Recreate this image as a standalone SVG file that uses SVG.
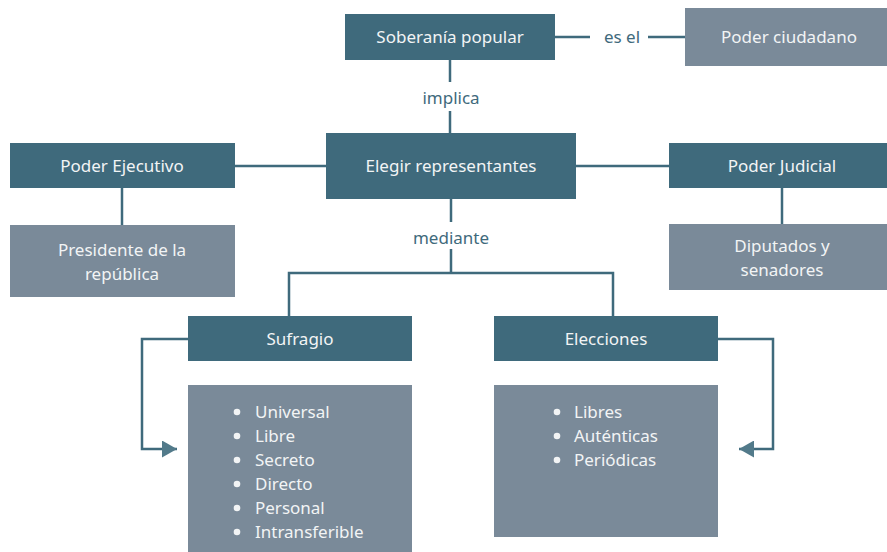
<svg xmlns="http://www.w3.org/2000/svg" width="887" height="552" viewBox="0 0 887 552">
<defs>
<style>
.dark{fill:#3f6a7c}
.gray{fill:#7a8a99}
.t{font-family:"Noto Sans","Open Sans",sans-serif;font-size:17px;fill:#f2f4f5;text-anchor:middle}
.lbl{font-family:"Noto Sans","Open Sans",sans-serif;font-size:17px;fill:#3f6a7c;text-anchor:middle}
.li{font-family:"Noto Sans","Open Sans",sans-serif;font-size:17px;fill:#f2f4f5}
.b{fill:#f2f4f5}
.c{fill:none;stroke:#3f6a7c;stroke-width:2.5}
</style>
<marker id="arr" viewBox="0 0 15 17" refX="15" refY="8.5" markerWidth="15" markerHeight="17" markerUnits="userSpaceOnUse" orient="auto">
<path d="M0,0 L15,8.5 L0,17 z" fill="#527a8a"/>
</marker>
</defs>
<rect width="887" height="552" fill="#ffffff"/>
<g id="connectors">
<line class="c" x1="555" y1="37" x2="590" y2="37"/>
<line class="c" x1="648" y1="37" x2="685" y2="37"/>
<line class="c" x1="450" y1="59" x2="450" y2="82"/>
<line class="c" x1="450" y1="111" x2="450" y2="133"/>
<line class="c" x1="235" y1="166" x2="326" y2="166"/>
<line class="c" x1="576" y1="166" x2="669" y2="166"/>
<line class="c" x1="122" y1="188" x2="122" y2="225"/>
<line class="c" x1="782" y1="188" x2="782" y2="224"/>
<line class="c" x1="451" y1="199" x2="451" y2="222"/>
<line class="c" x1="451" y1="249" x2="451" y2="273"/>
<polyline class="c" points="289,316 289,273 613,273 613,316"/>
<polyline class="c" points="188,339 142,339 142,449 177,449" marker-end="url(#arr)"/>
<polyline class="c" points="718,339 773,339 773,449 739,449" marker-end="url(#arr)"/>
<text class="lbl" x="622" y="43">es el</text>
<text class="lbl" x="451" y="104">implica</text>
<text class="lbl" x="451" y="244">mediante</text>
</g>
<g id="soberania"><rect class="dark" x="345" y="14" width="210" height="46"/><text class="t" x="450" y="43">Soberanía popular</text></g>
<g id="poder-ciudadano"><rect class="gray" x="685" y="8" width="202" height="58"/><text class="t" x="789" y="43">Poder ciudadano</text></g>
<g id="elegir"><rect class="dark" x="326" y="133" width="250" height="66"/><text class="t" x="451" y="172">Elegir representantes</text></g>
<g id="ejecutivo"><rect class="dark" x="10" y="143" width="225" height="45"/><text class="t" x="122" y="172">Poder Ejecutivo</text></g>
<g id="presidente"><rect class="gray" x="10" y="225" width="225" height="72"/><text class="t" x="122" y="256">Presidente de la</text><text class="t" x="122" y="280">república</text></g>
<g id="judicial"><rect class="dark" x="669" y="143" width="218" height="45"/><text class="t" x="782" y="172">Poder Judicial</text></g>
<g id="diputados"><rect class="gray" x="669" y="224" width="218" height="66"/><text class="t" x="782" y="252">Diputados y</text><text class="t" x="782" y="276">senadores</text></g>
<g id="sufragio"><rect class="dark" x="188" y="316" width="224" height="45"/><text class="t" x="300" y="345">Sufragio</text></g>
<g id="elecciones"><rect class="dark" x="494" y="316" width="224" height="45"/><text class="t" x="606" y="345">Elecciones</text></g>
<g id="sufragio-lista"><rect class="gray" x="188" y="385" width="224" height="167"/>
<circle class="b" cx="237" cy="412" r="3.3"/><text class="li" x="255" y="418">Universal</text>
<circle class="b" cx="237" cy="436" r="3.3"/><text class="li" x="255" y="442">Libre</text>
<circle class="b" cx="237" cy="460" r="3.3"/><text class="li" x="255" y="466">Secreto</text>
<circle class="b" cx="237" cy="484" r="3.3"/><text class="li" x="255" y="490">Directo</text>
<circle class="b" cx="237" cy="508" r="3.3"/><text class="li" x="255" y="514">Personal</text>
<circle class="b" cx="237" cy="532" r="3.3"/><text class="li" x="255" y="538">Intransferible</text>
</g>
<g id="elecciones-lista"><rect class="gray" x="494" y="385" width="224" height="152"/>
<circle class="b" cx="557" cy="412" r="3.3"/><text class="li" x="574" y="418">Libres</text>
<circle class="b" cx="557" cy="436" r="3.3"/><text class="li" x="574" y="442">Auténticas</text>
<circle class="b" cx="557" cy="460" r="3.3"/><text class="li" x="574" y="466">Periódicas</text>
</g>
</svg>
